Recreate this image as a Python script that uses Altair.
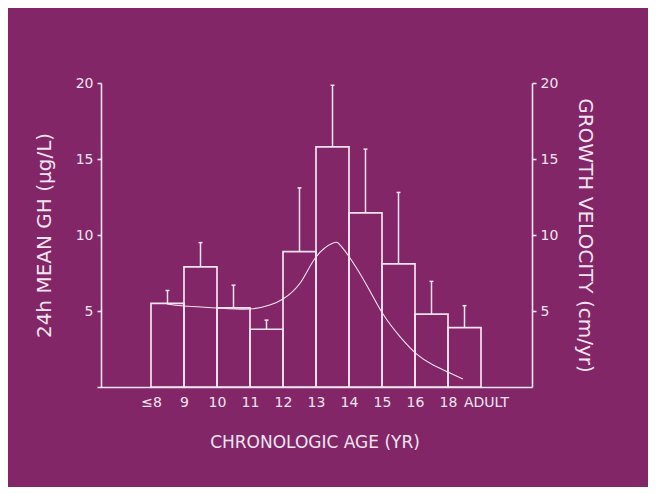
import altair as alt
import pandas as pd

# ---- data ----
age_labels = ["≤8", "9", "10", "11", "12", "13", "14", "15", "16", "18", "ADULT"]
gh_mean = [5.5, 7.9, 5.2, 3.8, 8.9, 15.8, 11.45, 8.1, 4.8, 3.9]
gh_upper = [6.35, 9.5, 6.7, 4.4, 13.1, 19.85, 15.65, 12.8, 6.95, 5.35]

curve_pos = [0.48, 1.0, 2.0, 3.0, 3.6, 4.0, 4.52, 5.0, 5.52, 5.73, 6.03,
             6.55, 7.03, 7.55, 8.06, 8.55, 9.06, 9.45]
velocity = [5.46, 5.33, 5.2, 5.13, 5.39, 5.79, 6.84, 8.55, 9.47, 9.34, 8.49,
            6.65, 4.8, 3.3, 2.15, 1.45, 0.92, 0.53]

BG = "#822668"
FG = "#f4e4ef"
FONT = "DejaVu Sans"

bars = pd.DataFrame({
    "start": list(range(len(gh_mean))),
    "gh": gh_mean,
    "upper": gh_upper,
})
curve = pd.DataFrame({"pos": curve_pos, "vel": velocity})

xscale = alt.Scale(domain=[-1.636, 11.545], nice=False, zero=False)
yscale = alt.Scale(domain=[0, 20], nice=False)

xaxis = alt.Axis(
    values=list(range(len(age_labels))),
    labelExpr="[" + ",".join("'%s'" % s for s in age_labels) + "][datum.value]",
    labelOffset={"condition": {"test": "datum.value == 10", "value": 5}, "value": 0},
    ticks=False, grid=False, domainColor=FG, domainWidth=1.6,
    labelColor=FG, labelFont=FONT, labelFontSize=14, labelPadding=8,
    labelFlush=False, labelOverlap=False,
    title="CHRONOLOGIC AGE (YR)", titleColor=FG, titleFont=FONT,
    titleFontSize=17, titleFontWeight="normal", titlePadding=25,
)

base = alt.Chart(bars).transform_calculate(
    end="datum.start + 1",
    mid="datum.start + 0.5",
    capl="datum.start + 0.44",
    capr="datum.start + 0.56",
)

left_axis = alt.Axis(
    values=[5, 10, 15, 20], grid=False, offset=-4,
    domainColor=FG, domainWidth=1.6, tickColor=FG, tickWidth=1.6, tickSize=4,
    labelColor=FG, labelFont=FONT, labelFontSize=14, labelPadding=4,
    title="24h MEAN GH (μg/L)", titleColor=FG, titleFont=FONT,
    titleFontSize=20, titleFontWeight="normal", titlePadding=21,
)

rect = base.mark_bar(fill=None, stroke=FG, strokeWidth=1.7).encode(
    x=alt.X("start:Q", scale=xscale, axis=xaxis),
    x2="end:Q",
    y=alt.Y("gh:Q", scale=yscale, axis=left_axis),
    y2=alt.datum(0),
)

err = base.mark_rule(color=FG, strokeWidth=1.5).encode(
    x="mid:Q",
    y="gh:Q",
    y2="upper:Q",
)

cap = base.mark_rule(color=FG, strokeWidth=1.5).encode(
    x="capl:Q",
    x2="capr:Q",
    y="upper:Q",
)

right_axis = alt.Axis(
    values=[5, 10, 15, 20], grid=False, orient="right",
    domainColor=FG, domainWidth=1.6, tickColor=FG, tickWidth=1.6, tickSize=4,
    labelColor=FG, labelFont=FONT, labelFontSize=14, labelPadding=4,
    title="GROWTH VELOCITY (cm/yr)", titleColor=FG, titleFont=FONT,
    titleFontSize=20, titleFontWeight="normal", titlePadding=17,
)

line = alt.Chart(curve).mark_line(
    color=FG, strokeWidth=1.1, interpolate="natural"
).encode(
    x=alt.X("pos:Q", scale=xscale, axis=xaxis),
    y=alt.Y("vel:Q", scale=yscale, axis=right_axis),
)

left = alt.layer(rect, err, cap)
chart = alt.layer(left, line).resolve_scale(y="independent").properties(
    width=435,
    height=304,
    background=BG,
    padding={"left": 89, "top": 75, "right": 116, "bottom": 100},
    autosize=alt.AutoSizeParams(type="none"),
).configure_view(stroke=None)

chart.save("out.html", embed_options={"renderer": "svg", "actions": False})
